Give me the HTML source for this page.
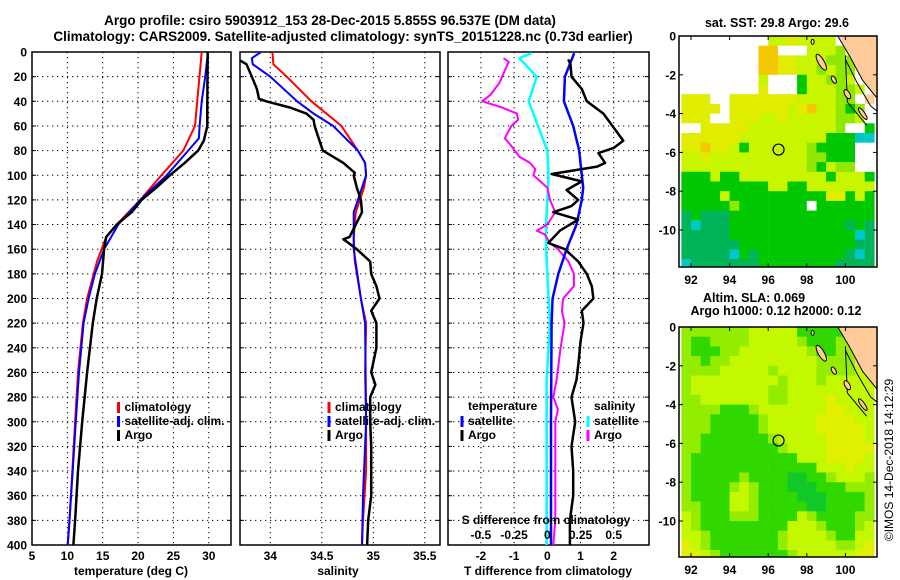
<!DOCTYPE html>
<html><head><meta charset="utf-8"><style>
html,body{margin:0;padding:0;background:#fff}
svg{display:block}
text{font-family:"Liberation Sans",Arial,sans-serif;font-weight:bold;fill:#000}
</style></head><body>
<svg id="chart" width="900" height="580" viewBox="0 0 900 580" xmlns="http://www.w3.org/2000/svg">
<text x="330" y="25" font-size="13.5" text-anchor="middle">Argo profile: csiro 5903912_153 28-Dec-2015 5.855S 96.537E (DM data)</text>
<text x="343" y="41" font-size="13.5" text-anchor="middle">Climatology: CARS2009. Satellite-adjusted climatology: synTS_20151228.nc (0.73d earlier)</text>
<g id="g1"></g>
<g id="g2"></g>
<g id="g3"></g>
<g id="m1"></g>
<g id="m2"></g>
<text x="777" y="27" font-size="12.5" text-anchor="middle">sat. SST: 29.8 Argo: 29.6</text>
<text x="754" y="302" font-size="12.5" text-anchor="middle">Altim. SLA: 0.069</text>
<text x="776" y="315" font-size="12.5" text-anchor="middle">Argo h1000: 0.12 h2000: 0.12</text>
<text transform="translate(893,460) rotate(-90)" font-size="12" text-anchor="middle" style="font-weight:normal">©IMOS 14-Dec-2018 14:12:29</text>
</svg>
<script>
// ---- profile data ----
const climTDepth=[0,60,80,100,120,140,150,170,200,220,260,300,340,380,400];
const climT=[29.0,28.05,26.4,23.3,20.3,17.0,15.5,14.2,12.8,12.2,11.5,11.1,10.7,10.3,10.05];
const satTDepth=[0,20,40,60,70,80,100,120,140,160,180,200,220,260,300,340,380,400];
const satT=[29.9,29.5,29.0,28.7,28.6,27.1,24.05,20.3,17.2,15.2,13.9,13.0,12.3,11.65,11.2,10.75,10.3,10.05];
const argoTDepth=[0,40,60,72,80,90,100,110,120,130,140,150,160,180,200,220,260,300,340,380,400];
const argoT=[29.85,29.8,29.8,29.3,28.5,26.6,24.5,22.6,20.5,19.1,17.0,15.5,15.2,14.9,14.15,13.6,12.8,12.1,11.5,11.1,10.85];

const climSDepth=[0,10,20,40,60,80,90,100,110,130,150,170,200,220,260,300,340,380,400];
const climS=[34.02,34.03,34.16,34.40,34.69,34.85,34.92,34.93,34.91,34.83,34.81,34.82,34.88,34.93,34.92,34.93,34.93,34.90,34.89];
const satSDepth=[0,5,10,20,40,50,60,80,90,100,120,130,160,200,220,300,360,400];
const satS=[33.91,33.82,33.83,34.0,34.26,34.42,34.61,34.85,34.92,34.93,34.85,34.81,34.81,34.88,34.92,34.93,34.90,34.89];
const argoSDepth=[7,10,20,30,38,40,45,50,55,60,70,80,90,98,100,110,120,130,140,150,152,155,160,170,180,190,200,210,220,240,260,270,280,300,320,340,360,380,400];
const argoS=[33.71,33.77,33.82,33.87,33.89,33.96,34.19,34.35,34.42,34.43,34.47,34.51,34.71,34.82,34.81,34.84,34.88,34.89,34.83,34.77,34.71,34.76,34.84,34.97,34.98,35.03,35.06,34.98,35.03,35.03,34.98,35.02,34.97,34.97,34.98,34.98,34.98,34.95,34.94];

const dTsatDepth=[1,20,40,60,80,100,110,120,140,160,180,200,220,260,300,340,380,400];
const dTsat=[0.81,0.53,0.50,0.78,0.96,1.04,1.08,1.04,0.88,0.58,0.33,0.16,0.13,0.12,0.11,0.11,0.11,0.11];
const dTargoDepth=[6,10,20,30,40,50,72,78,82,90,93,99,105,112,120,125,130,136,145,155,160,170,180,190,200,210,220,235,250,266,280,300,320,340,360,380,400];
const dTargo=[0.63,0.70,0.73,1.04,1.19,1.69,2.29,1.99,1.54,1.74,1.5,0.13,1.04,0.58,0.93,0.73,0.18,0.93,0.38,0.03,0.53,0.93,1.19,1.34,1.39,1.04,1.09,1.0,0.95,0.88,0.73,0.84,0.73,0.78,0.78,0.68,0.68];
const dSsatDepth=[1,5,20,40,60,80,100,120,140,160,200,220,266,300,400];
const dSsat=[-0.12,-0.21,-0.08,-0.14,-0.07,0,0.01,0,-0.01,-0.01,0.01,0.02,-0.005,-0.005,-0.005];
const dSargoDepth=[5,8,15,25,35,40,45,50,55,60,70,75,85,90,95,100,110,120,130,140,145,148,155,160,170,180,190,200,210,220,240,266,280,290,300,320,340,360,380,400];
const dSargo=[-0.33,-0.29,-0.32,-0.36,-0.43,-0.49,-0.34,-0.23,-0.22,-0.27,-0.32,-0.28,-0.21,-0.13,-0.09,-0.105,0,0.02,0.06,0,-0.08,-0.02,0.02,0.08,0.16,0.2,0.2,0.12,0.11,0.13,0.1,0.07,0.045,0.08,0.06,0.06,0.06,0.06,0.06,0.045];

const depthTicks=[0,20,40,60,80,100,120,140,160,180,200,220,240,260,280,300,320,340,360,380,400];
const tempTicks=[5,10,15,20,25,30];
const salTicks=[34,34.5,35,35.5];
const dTTicks=[-2,-1,0,1,2];
const dSTicks=[-0.5,-0.25,0,0.25,0.5];
const dSTickLabels=["-0.5","-0.25","0","0.25","0.5"];

// ---- map data (0.5 deg cells, lon 91.5.., lat 0..-12) ----
const sstRows=[
"wwwwwwwwwllyllllwLLL","wwwwwwwwoowwwlllgwLL","wwwwwwwwooyylllgggwL","wwwwwwwwooyyllglggwL",
"wwwwwwwwlwwwGllgglwL","wwwwwwwwywwwGlllgglw","yyywwyyyyyyyllllggwL","yyyywyyyyyylyollgGgw",
"yyywwyyyllylllllgglw","wwyyyyylllllllllgwwG","yyyyyylllllllllGGGcc","yyoyylGllllllgGGGGww",
"llyllllllllllggGGGww","lllllllllllllgGlggww","GGGlGGlllllllllGlllG","GGGGGGGGGllGGlllllll",
"GGGGlGGGGGGGGGGyyGlG","GGGGGgGGGGGGGwGGGGGG","TGTTTGGGGGGGGGGGGGGG","TcTTTGGGGGGGGGGGGTGT",
"TTTTTGGGGGGGGGGGGGcT","TTTTTTGGGGGGGGGGGGTT","TTTTTcGTGGGGGGGGGTcT","cTTTTTTTGGGGGGGGTTTT"];
const slaRows=[
"ggggggglllllGGGGGgLL","gGGgggglllllgGGGggLL","gGGGgglllllllgGGggLL","ggGgglllllllllggggLL",
"gggglllllgllllggggll","glllllllllglllglllll","gllllllllgglllllllll","gglllllllggllllYllll",
"ggggGGGglllllllYYlll","gggGGGGGglllllYYYYll","gggGGGGGglllllYYYYYl","ggGGGGGGGglllllYYYYl",
"ggGGGGGGGGgllllYYYYY","gGGGGGGGGGGGlllYYYYl","gGGGGGGGGGGGGGlllYll","gGGGGGgGGGGDDGGglllg",
"gGGGGglgGGGDDDGGGggg","gGGGGllgGGGGDDDGGGGg","ggGGGllgGGGGGDDGGGGg","lgGGGgggGGGGlgGGGGgg",
"lgGGGGGGGGGlllgGGGgl","llgGGGGGGGgllllgGGll","YlgGGGGGGGglllllgglY","YYlgGGGGGGGgllllllYY"];
const sstPalette={w:"#ffffff",o:"#f4c800",y:"#e0ec00",l:"#c8f500",g:"#90e800",G:"#00c800",T:"#00b45a",c:"#00c8c8",L:"#ffcc99"};
const slaPalette={w:"#ffffff",Y:"#e0f000",l:"#c4f800",g:"#94ec00",G:"#30d800",D:"#10c828",L:"#ffcc99"};
const lonTicks=[92,94,96,98,100];
const latTicks=[0,-2,-4,-6,-8,-10];
const argoLon=96.537, argoLat=-5.855;

// ---- helpers ----
const NS="http://www.w3.org/2000/svg";
function mk(parent,tag,attrs){const e=document.createElementNS(NS,tag);for(const k in attrs)e.setAttribute(k,attrs[k]);parent.appendChild(e);return e;}
const yD=d=>52+d*1.2325;
const xT=t=>32+(t-5)*7.07;
const xS=s=>270.3+(s-34)*103;
const xdT=v=>547.3+v*33.2;
const xdS=v=>547.3+v*132.8;
const TOP=52,BOT=545;

function panel(g,x0,x1,xgrid,nm){
  const clip=mk(g,'clipPath',{id:'clip-'+nm});
  mk(clip,'rect',{x:x0,y:TOP,width:x1-x0,height:BOT-TOP});
  depthTicks.forEach(d=>{
    const l=mk(g,'line',{x1:x0,x2:x1,y1:yD(d),y2:yD(d),stroke:'#000','stroke-width':1,'stroke-dasharray':'1.3,3.7'});
    
    
    const t=mk(g,'line',{x1:x0,x2:x0+4,y1:yD(d),y2:yD(d),stroke:'#000','stroke-width':1});
    
    
    const t2=mk(g,'line',{x1:x1-4,x2:x1,y1:yD(d),y2:yD(d),stroke:'#000','stroke-width':1});
    
    
  });
  xgrid.forEach(x=>{
    const l=mk(g,'line',{x1:x,x2:x,y1:TOP,y2:BOT,stroke:'#000','stroke-width':1,'stroke-dasharray':'1.3,3.7'});
    
    
  });
  const r=mk(g,'rect',{x:x0,y:TOP,width:x1-x0,height:BOT-TOP,fill:'none',stroke:'#000','stroke-width':1.5});
  
  
}
function series(g,depths,vals,xf,color,w,nm,clipId){
  const pts=depths.map((d,i)=>xf(vals[i]).toFixed(1)+','+yD(d).toFixed(1)).join(' ');
  const p=mk(g,'polyline',{points:pts,fill:'none',stroke:color,'stroke-width':w,'stroke-linejoin':'round','clip-path':'url(#'+clipId+')'});
  
  
}
function txt(g,x,y,s,size,anchor,nm){
  const t=mk(g,'text',{x:x,y:y,'font-size':size,'text-anchor':anchor||'start'});
  t.textContent=s;
  
  
  return t;
}
function legend(g,x,y,color,label,nm){
  const m=mk(g,'rect',{x:x-1.5,y:y-9,width:3,height:11,fill:color});
  
  
  txt(g,x+6,y,label,12,'start',nm+'-label');
}

// ---- panel 1: temperature ----
const g1=document.getElementById('g1');
panel(g1,32,231,tempTicks.map(xT),'p1');
depthTicks.forEach(d=>txt(g1,27,yD(d)+4.5,String(d),12,'end','depth-tick-label'));
tempTicks.forEach(t=>txt(g1,xT(t),560,String(t),12,'middle','temperature-tick-label'));
txt(g1,131,575,'temperature (deg C)',12,'middle','temperature-axis-title');
series(g1,climTDepth,climT,xT,'#ff0000',2,'climatology-temperature-line','clip-p1');
series(g1,satTDepth,satT,xT,'#0000ff',2,'satellite-temperature-line','clip-p1');
series(g1,argoTDepth,argoT,xT,'#000000',2.5,'argo-temperature-line','clip-p1');
legend(g1,118.5,411,'#ff0000','climatology','legend-climatology');
legend(g1,118.5,425,'#0000ff','satellite-adj. clim.','legend-satellite');
legend(g1,118.5,439,'#000000','Argo','legend-argo');

// ---- panel 2: salinity ----
const g2=document.getElementById('g2');
panel(g2,240,440,salTicks.map(xS),'p2');
salTicks.forEach(s=>txt(g2,xS(s),560,String(s),12,'middle','salinity-tick-label'));
txt(g2,338,575,'salinity',12,'middle','salinity-axis-title');
series(g2,climSDepth,climS,xS,'#ff0000',2,'climatology-salinity-line','clip-p2');
series(g2,satSDepth,satS,xS,'#0000ff',2,'satellite-salinity-line','clip-p2');
series(g2,argoSDepth,argoS,xS,'#000000',2.5,'argo-salinity-line','clip-p2');
legend(g2,329,411,'#ff0000','climatology','legend-climatology');
legend(g2,329,425,'#0000ff','satellite-adj. clim.','legend-satellite');
legend(g2,329,439,'#000000','Argo','legend-argo');

// ---- panel 3: differences ----
const g3=document.getElementById('g3');
panel(g3,448,649,dTTicks.map(xdT),'p3');
dTTicks.forEach(t=>txt(g3,xdT(t),560,String(t),12,'middle','t-diff-tick-label'));
txt(g3,548,575,'T difference from climatology',12,'middle','t-diff-axis-title');
series(g3,dSsatDepth,dSsat,xdS,'#00ffff',2.5,'satellite-salinity-diff-line','clip-p3');
series(g3,dSargoDepth,dSargo,xdS,'#ff00ff',2,'argo-salinity-diff-line','clip-p3');
series(g3,dTsatDepth,dTsat,xdT,'#0000ff',2.5,'satellite-temperature-diff-line','clip-p3');
series(g3,dTargoDepth,dTargo,xdT,'#000000',2.5,'argo-temperature-diff-line','clip-p3');
txt(g3,546,524,'S difference from climatology',12,'middle','s-diff-axis-title');
dSTicks.forEach((s,i)=>txt(g3,xdS(s),539,dSTickLabels[i],12,'middle','s-diff-tick-label'));
txt(g3,468,410,'temperature',12,'start','legend-temperature-heading');
legend(g3,462,425,'#0000ff','satellite','legend-temp-satellite');
legend(g3,462,439,'#000000','Argo','legend-temp-argo');
txt(g3,594,410,'salinity',12,'start','legend-salinity-heading');
legend(g3,588,425,'#00ffff','satellite','legend-sal-satellite');
legend(g3,588,439,'#ff00ff','Argo','legend-sal-argo');

// ---- maps ----
function drawMap(g,rows,pal,top,bottom,nm){
  const L=679,R=877;
  const xL=lon=>691+(lon-92)*19.3;
  const yL=lat=>top+(-lat)*19.4;
  const clip=mk(g,'clipPath',{id:'clip-'+nm});
  mk(clip,'rect',{x:L,y:top,width:R-L,height:bottom-top});
  const cg=mk(g,'g',{'clip-path':'url(#clip-'+nm+')'});
  mk(cg,'rect',{x:L,y:top,width:R-L,height:bottom-top,fill:'#fff'});
  rows.forEach((row,r)=>{
    for(let c=0;c<row.length;c++){
      const lon=91.5+c*0.5, lat=-r*0.5;
      const x=xL(lon), y=yL(lat);
      const cell=mk(cg,'rect',{x:x.toFixed(1),y:y.toFixed(1),width:9.9,height:10.0,fill:pal[row[c]]});
      
      
    }
  });
  const land=mk(cg,'polygon',{points:`${xL(99.6)},${yL(0)} ${xL(101.8)},${yL(0)} ${xL(101.8)},${yL(-3.4)} ${xL(100.9)},${yL(-2.3)} ${xL(100.2)},${yL(-1)}`,fill:'#ffcc99',stroke:'#000','stroke-width':1});
  
  
  const coast=mk(cg,'polyline',{points:`${xL(100)},${yL(-1.2)} ${xL(100.6)},${yL(-2.4)} ${xL(101.3)},${yL(-3.6)} ${xL(101.8)},${yL(-4)}`,fill:'none',stroke:'#000','stroke-width':1});
  
  
  const coast2=mk(cg,'polyline',{points:`${xL(100)},${yL(-1)} ${xL(100.1)},${yL(-3.4)} ${xL(101.1)},${yL(-4.6)}`,fill:'none',stroke:'#000','stroke-width':1});
  
  
  [[98.75,-1.35,3,9,-30],[99.4,-2.25,2,4,-30],[100.1,-3.0,2.5,5,-30],[100.9,-4.0,2,7,-35],[98.3,-0.3,1.5,2.5,0]].forEach(is=>{
    const e=mk(cg,'ellipse',{cx:xL(is[0]),cy:yL(is[1]),rx:is[2],ry:is[3],fill:'#ffcc99',stroke:'#000','stroke-width':1,transform:`rotate(${is[4]} ${xL(is[0])} ${yL(is[1])})`});
    
    
  });
  const f=mk(g,'rect',{x:L,y:top,width:R-L,height:bottom-top,fill:'none',stroke:'#000','stroke-width':1.5});
  
  
  const mk2=mk(g,'circle',{cx:xL(argoLon),cy:yL(argoLat),r:5.5,fill:'none',stroke:'#000','stroke-width':1.2});
  
  
  latTicks.forEach(l=>{
    txt(g,676,yL(l)+4.5,String(l),12,'end','lat-tick-label');
    mk(g,'line',{x1:L,x2:L+4,y1:yL(l),y2:yL(l),stroke:'#000'});
    mk(g,'line',{x1:R-4,x2:R,y1:yL(l),y2:yL(l),stroke:'#000'});
  });
  lonTicks.forEach(l=>{
    txt(g,xL(l),bottom+17,String(l),12,'middle','lon-tick-label');
    mk(g,'line',{x1:xL(l),x2:xL(l),y1:top,y2:top+4,stroke:'#000'});
    mk(g,'line',{x1:xL(l),x2:xL(l),y1:bottom-4,y2:bottom,stroke:'#000'});
  });
}
drawMap(document.getElementById('m1'),sstRows,sstPalette,36,267,'m1');
drawMap(document.getElementById('m2'),slaRows,slaPalette,327,557,'m2');
</script>
</body></html>
